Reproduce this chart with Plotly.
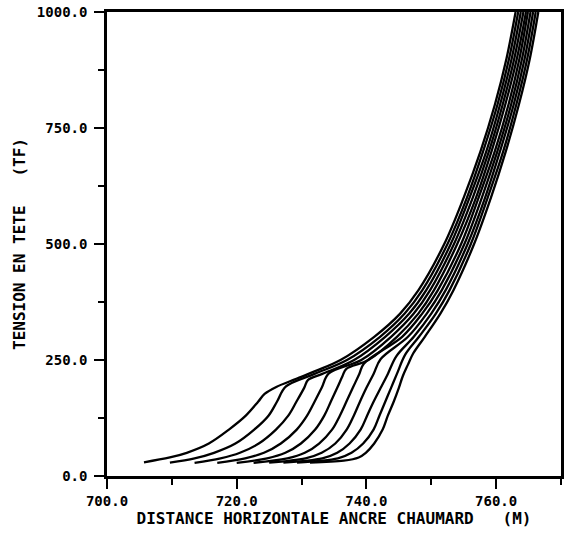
import plotly.graph_objects as go

# Horizontal distance (M) and head tension (TF) for each curve
c1_x = [705.7, 709.7, 712.3, 715.7, 718.8, 721.4, 723.3, 724.3, 726.1, 729.2, 732.3, 736.0, 741.2, 745.2, 748.0, 752.0, 755.0, 757.6, 759.8, 761.6, 763.0]
c1_t = [29.6, 40, 50, 70, 100, 130, 160, 177, 192, 209.5, 227, 250, 300, 350, 400, 500, 600, 700, 800, 900, 1000]

c2_x = [709.7, 713.5, 716.5, 719.8, 722.7, 724.9, 726.2, 727.6, 732.0, 737.0, 742.1, 745.9, 748.6, 752.5, 755.5, 758.0, 760.2, 762.0, 763.4]
c2_t = [29, 38, 50, 70, 100, 130, 160, 193, 220, 250, 300, 350, 400, 500, 600, 700, 800, 900, 1000]

c3_x = [713.5, 717.5, 720.5, 723.4, 726.05, 727.95, 729.2, 730.4, 731.0, 733.2, 738.1, 742.9, 746.6, 749.2, 753.0, 755.9, 758.5, 760.6, 762.4, 763.8]
c3_t = [28.5, 38, 50, 70, 100, 130, 160, 190, 207, 220, 250, 300, 350, 400, 500, 600, 700, 800, 900, 1000]

c4_x = [717.0, 721.3, 724.2, 726.8, 729.25, 730.85, 732.0, 733.1, 734.2, 739.2, 743.8, 747.3, 749.8, 753.5, 756.4, 758.9, 761.0, 762.8, 764.2]
c4_t = [28.5, 38, 50, 70, 100, 130, 160, 190, 221, 250, 300, 350, 400, 500, 600, 700, 800, 900, 1000]

c5_x = [720.0, 724.7, 727.5, 729.9, 732.1, 733.5, 734.5, 735.5, 736.3, 736.9, 740.3, 744.7, 748.0, 750.4, 754.0, 756.9, 759.3, 761.4, 763.2, 764.6]
c5_t = [28.5, 38, 50, 70, 100, 130, 160, 190, 215, 231, 250, 300, 350, 400, 500, 600, 700, 800, 900, 1000]

c6_x = [722.6, 727.8, 730.5, 732.7, 734.7, 735.9, 736.9, 737.9, 738.9, 739.6, 745.5, 748.6, 751.0, 754.6, 757.3, 759.8, 761.9, 763.6, 764.9]
c6_t = [28.5, 38, 50, 70, 100, 130, 160, 190, 220, 242, 300, 350, 400, 500, 600, 700, 800, 900, 1000]

c7_x = [725.0, 730.6, 733.1, 735.2, 736.95, 738.05, 739.0, 740.0, 741.1, 742.2, 746.4, 749.3, 751.6, 755.1, 757.8, 760.2, 762.3, 764.0, 765.3]
c7_t = [29, 38, 50, 70, 100, 130, 160, 190, 220, 252, 300, 350, 400, 500, 600, 700, 800, 900, 1000]

c8_x = [727.2, 733.2, 735.5, 737.4, 739.1, 740.1, 741.1, 742.2, 743.3, 744.6, 747.3, 750.0, 752.2, 755.6, 758.3, 760.6, 762.7, 764.4, 765.7]
c8_t = [29, 38, 50, 70, 100, 130, 160, 190, 220, 258, 300, 350, 400, 500, 600, 700, 800, 900, 1000]

c9_x = [729.3, 735.6, 737.7, 739.5, 741.1, 742.0, 742.9, 743.8, 744.7, 746.0, 748.1, 750.7, 752.8, 756.1, 758.7, 761.1, 763.1, 764.8, 766.1]
c9_t = [29, 38, 50, 70, 100, 130, 160, 190, 220, 262, 300, 350, 400, 500, 600, 700, 800, 900, 1000]

c10_x = [731.3, 736.5, 738.8, 739.9, 741.2, 742.5, 743.3, 744.2, 745.0, 745.6, 746.4, 747.2, 749.0, 751.4, 753.4, 756.6, 759.2, 761.5, 763.5, 765.2, 766.5]
c10_t = [29, 33, 40, 50, 70, 100, 130, 160, 190, 215, 240, 264, 300, 350, 400, 500, 600, 700, 800, 900, 1000]

x_ticks = [700, 720, 740, 760]
x_ticklabels = ["700.0", "720.0", "740.0", "760.0"]
y_ticks = [0, 250, 500, 750, 1000]
y_ticklabels = ["0.0", "250.0", "500.0", "750.0", "1000.0"]

curves = [(c1_x, c1_t), (c2_x, c2_t), (c3_x, c3_t), (c4_x, c4_t), (c5_x, c5_t),
          (c6_x, c6_t), (c7_x, c7_t), (c8_x, c8_t), (c9_x, c9_t), (c10_x, c10_t)]

fig = go.Figure()
for cx, ct in curves:
    fig.add_trace(go.Scatter(x=cx, y=ct, mode="lines",
                             line=dict(color="black", width=2.3, shape="spline", smoothing=1.0),
                             showlegend=False, hoverinfo="skip"))

font_main = dict(family="DejaVu Sans Mono", size=14, color="black", weight="bold")
font_title = dict(family="DejaVu Sans Mono", size=16, color="black", weight="bold")

fig.update_layout(
    width=566, height=536,
    margin=dict(l=107, r=5, t=12, b=60),
    paper_bgcolor="white", plot_bgcolor="white",
    showlegend=False,
)
fig.update_xaxes(
    range=[700, 770], showgrid=False, zeroline=False,
    showline=True, linecolor="black", linewidth=2.5, mirror=True,
    tickmode="array", tickvals=x_ticks, ticktext=x_ticklabels,
    ticks="outside", ticklen=10, tickwidth=2, tickcolor="black",
    minor=dict(dtick=10, tick0=700, ticks="outside", ticklen=6, tickwidth=2, tickcolor="black"),
    tickfont=font_main,
    title=dict(text="DISTANCE HORIZONTALE ANCRE CHAUMARD\u00a0\u00a0\u00a0(M)", font=font_title, standoff=6),
    automargin=False,
)
fig.update_yaxes(
    range=[0, 1000], showgrid=False, zeroline=False,
    showline=True, linecolor="black", linewidth=2.5, mirror=True,
    tickmode="array", tickvals=y_ticks, ticktext=y_ticklabels,
    ticks="outside", ticklen=10, tickwidth=2, tickcolor="black",
    minor=dict(dtick=125, tick0=0, ticks="outside", ticklen=6, tickwidth=2, tickcolor="black"),
    tickfont=font_main, ticklabelstandoff=4,
    title=dict(text="TENSION EN TETE\u00a0\u00a0\u00a0(TF)", font=font_title, standoff=8),
    automargin=False,
)

fig.write_html("out.html")
